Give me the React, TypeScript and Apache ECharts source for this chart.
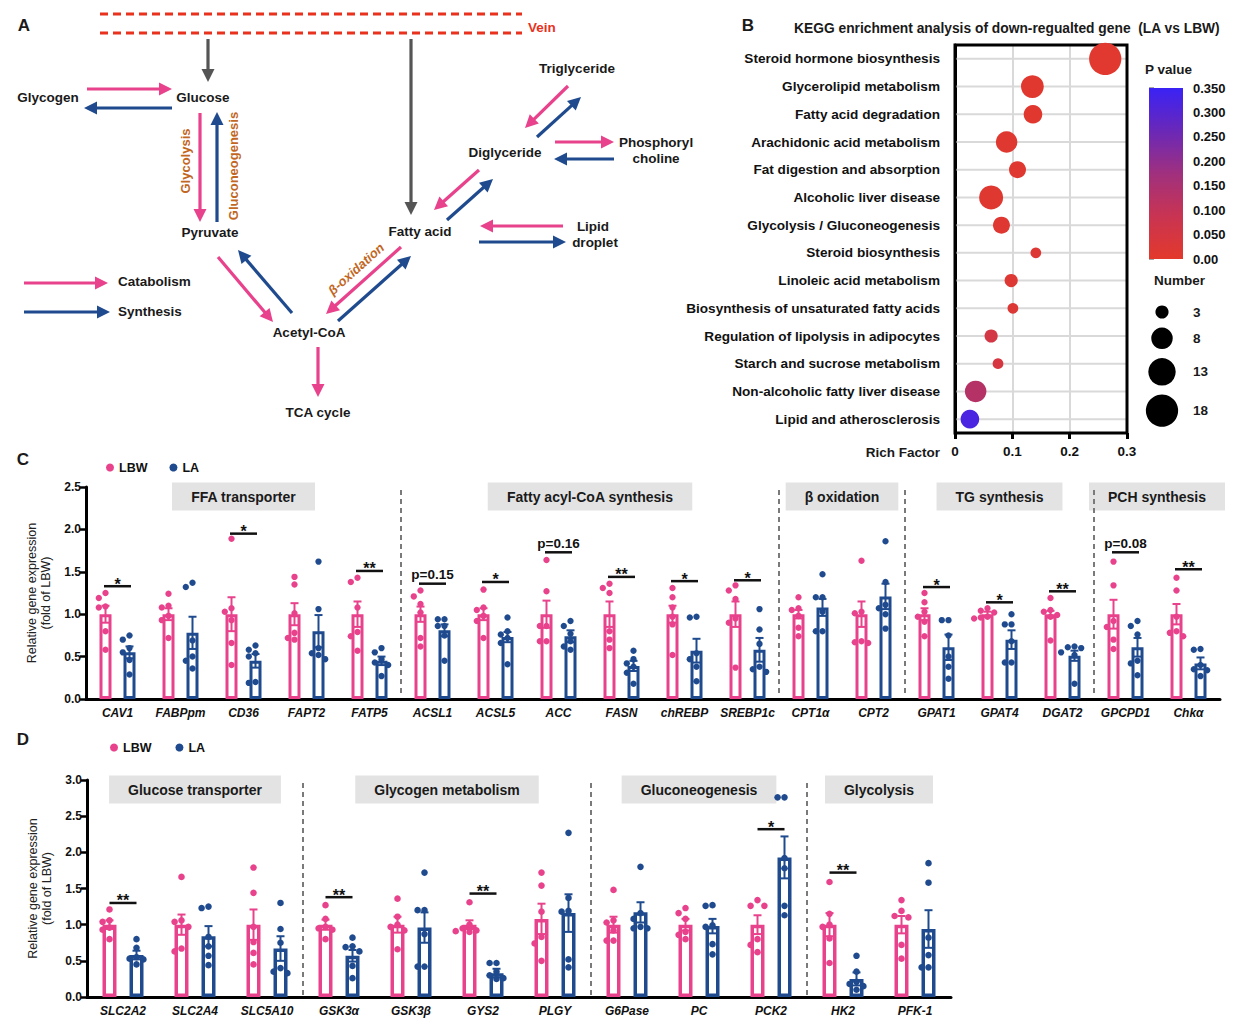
import React, { useEffect, useRef } from 'react';
import * as echarts from 'echarts';

const PINK = '#E8428C';
const BLUE = '#1F4B8E';
const ORANGE = '#C2671F';
const FONT = '"Liberation Sans", Arial, Helvetica, sans-serif';

// ---------- Panel B data ----------
const keggPathways = [
  'Steroid hormone biosynthesis',
  'Glycerolipid metabolism',
  'Fatty acid degradation',
  'Arachidonic acid metabolism',
  'Fat digestion and absorption',
  'Alcoholic liver disease',
  'Glycolysis / Gluconeogenesis',
  'Steroid biosynthesis',
  'Linoleic acid metabolism',
  'Biosynthesis of unsaturated fatty acids',
  'Regulation of lipolysis in adipocytes',
  'Starch and sucrose metabolism',
  'Non-alcoholic fatty liver disease',
  'Lipid and atherosclerosis',
];
const keggRichFactor = [0.262, 0.135, 0.136, 0.090, 0.109, 0.063, 0.081, 0.141, 0.098, 0.101, 0.063, 0.075, 0.036, 0.026];
const keggCount = [18, 9, 6, 8, 5, 10, 5, 2, 3, 2, 3, 2, 8, 6];
const keggPValue = [0.008, 0.01, 0.01, 0.012, 0.012, 0.014, 0.015, 0.02, 0.02, 0.025, 0.055, 0.045, 0.13, 0.32];
const sizeLegend = [3, 8, 13, 18];
const pColors = ['#E3392B', '#C93452', '#A0307E', '#6A28B8', '#3A22F5'];

// ---------- Panel C data ----------
const cGenes = ['CAV1', 'FABPpm', 'CD36', 'FAPT2', 'FATP5', 'ACSL1', 'ACSL5', 'ACC', 'FASN', 'chREBP', 'SREBP1c', 'CPT1α', 'CPT2', 'GPAT1', 'GPAT4', 'DGAT2', 'GPCPD1', 'Chkα'];
const cLbwMean = [1.0, 1.0, 1.0, 1.0, 1.0, 1.0, 1.0, 1.0, 1.0, 1.0, 1.0, 1.0, 1.0, 1.0, 1.0, 1.0, 1.0, 1.0];
const cLbwSem = [0.10, 0.07, 0.20, 0.13, 0.15, 0.09, 0.07, 0.16, 0.15, 0.10, 0.15, 0.05, 0.15, 0.07, 0.03, 0.04, 0.17, 0.12];
const cLaMean = [0.55, 0.78, 0.45, 0.80, 0.45, 0.81, 0.73, 0.74, 0.39, 0.57, 0.58, 1.08, 1.21, 0.61, 0.70, 0.51, 0.61, 0.42];
const cLaSem = [0.07, 0.19, 0.08, 0.19, 0.05, 0.07, 0.06, 0.07, 0.06, 0.14, 0.14, 0.10, 0.15, 0.15, 0.11, 0.06, 0.11, 0.07];
const cLbwPts = [
  [1.25, 1.19, 1.09, 1.08, 0.80, 0.58],
  [1.24, 1.10, 1.08, 0.98, 0.93, 0.72],
  [1.89, 1.07, 1.03, 0.93, 0.66, 0.40],
  [1.44, 1.35, 1.01, 0.78, 0.72, 0.70],
  [1.43, 1.38, 1.08, 0.79, 0.74, 0.57],
  [1.28, 1.21, 1.12, 1.02, 0.72, 0.62],
  [1.29, 1.08, 1.05, 0.98, 0.92, 0.72],
  [1.64, 1.27, 0.86, 0.86, 0.68, 0.68],
  [1.36, 1.31, 1.25, 0.80, 0.70, 0.60],
  [1.31, 1.20, 1.08, 0.97, 0.88, 0.52],
  [1.34, 1.28, 1.18, 0.95, 0.90, 0.37],
  [1.20, 1.07, 1.05, 0.98, 0.84, 0.74],
  [1.63, 1.03, 1.01, 0.68, 0.67, 0.66],
  [1.25, 1.14, 1.03, 0.97, 0.91, 0.74],
  [1.07, 1.04, 1.02, 0.97, 0.96, 0.95],
  [1.19, 1.05, 1.03, 0.99, 0.97, 0.69],
  [1.62, 1.34, 0.92, 0.85, 0.70, 0.59],
  [1.43, 1.28, 0.97, 0.80, 0.78, 0.74],
];
const cLaPts = [
  [0.75, 0.70, 0.60, 0.55, 0.46, 0.29],
  [1.37, 1.32, 0.69, 0.50, 0.45, 0.36],
  [0.63, 0.58, 0.54, 0.50, 0.20, 0.19],
  [1.62, 1.06, 0.60, 0.54, 0.52, 0.47],
  [0.60, 0.55, 0.47, 0.43, 0.40, 0.27],
  [0.94, 0.94, 0.86, 0.86, 0.75, 0.45],
  [0.96, 0.80, 0.76, 0.72, 0.66, 0.41],
  [0.92, 0.86, 0.77, 0.68, 0.62, 0.58],
  [0.57, 0.47, 0.42, 0.38, 0.31, 0.18],
  [0.97, 0.96, 0.54, 0.47, 0.38, 0.21],
  [1.06, 0.82, 0.65, 0.38, 0.35, 0.32],
  [1.47, 1.20, 1.20, 1.03, 0.80, 0.80],
  [1.86, 1.38, 1.11, 1.07, 1.00, 0.83],
  [0.93, 0.93, 0.75, 0.50, 0.38, 0.24],
  [1.00, 0.88, 0.88, 0.68, 0.43, 0.43],
  [0.62, 0.61, 0.60, 0.55, 0.52, 0.18],
  [0.92, 0.86, 0.76, 0.45, 0.42, 0.28],
  [0.59, 0.58, 0.40, 0.35, 0.34, 0.27],
];
const cSig: [number, number, string][] = [
  [0, 1.33, '*'], [2, 1.95, '*'], [4, 1.51, '**'], [5, 1.36, 'p=0.15'], [6, 1.38, '*'],
  [7, 1.73, 'p=0.16'], [8, 1.44, '**'], [9, 1.39, '*'], [10, 1.40, '*'], [13, 1.32, '*'],
  [14, 1.14, '*'], [15, 1.27, '**'], [16, 1.73, 'p=0.08'], [17, 1.53, '**'],
];
const cGroups: [number, number, string][] = [
  [0, 4, 'FFA transporter'], [5, 10, 'Fatty acyl-CoA synthesis'], [11, 12, 'β oxidation'],
  [13, 15, 'TG synthesis'], [16, 17, 'PCH synthesis'],
];

// ---------- Panel D data ----------
const dGenes = ['SLC2A2', 'SLC2A4', 'SLC5A10', 'GSK3α', 'GSK3β', 'GYS2', 'PLGY', 'G6Pase', 'PC', 'PCK2', 'HK2', 'PFK-1'];
const dLbwMean = [1.0, 1.0, 1.0, 1.0, 1.0, 1.0, 1.08, 1.0, 1.0, 1.0, 1.0, 1.0];
const dLbwSem = [0.06, 0.14, 0.21, 0.07, 0.11, 0.06, 0.21, 0.11, 0.08, 0.13, 0.16, 0.12];
const dLaMean = [0.58, 0.84, 0.67, 0.57, 0.96, 0.33, 1.16, 1.17, 0.98, 1.93, 0.25, 0.94];
const dLaSem = [0.06, 0.14, 0.17, 0.08, 0.21, 0.06, 0.26, 0.14, 0.10, 0.29, 0.09, 0.26];
const dLbwPts = [
  [1.21, 1.06, 1.04, 0.96, 0.93, 0.80],
  [1.66, 1.06, 1.04, 0.97, 0.67, 0.63],
  [1.79, 1.44, 0.97, 0.76, 0.61, 0.45],
  [1.27, 1.08, 0.97, 0.95, 0.93, 0.80],
  [1.36, 1.11, 1.00, 0.97, 0.92, 0.66],
  [1.31, 1.00, 0.95, 0.92, 0.91, 0.90],
  [1.72, 1.54, 1.18, 0.83, 0.74, 0.50],
  [1.48, 1.06, 1.03, 0.92, 0.78, 0.78],
  [1.23, 1.16, 1.08, 0.90, 0.86, 0.80],
  [1.34, 1.26, 1.26, 0.80, 0.72, 0.62],
  [1.59, 1.15, 1.00, 0.97, 0.81, 0.47],
  [1.34, 1.19, 1.12, 1.10, 0.72, 0.53],
];
const dLaPts = [
  [0.80, 0.68, 0.55, 0.53, 0.52, 0.45],
  [1.25, 1.23, 0.83, 0.70, 0.57, 0.44],
  [1.30, 0.94, 0.75, 0.40, 0.35, 0.33],
  [0.82, 0.70, 0.69, 0.63, 0.43, 0.26],
  [1.72, 1.20, 1.20, 0.87, 0.42, 0.42],
  [0.47, 0.47, 0.35, 0.30, 0.26, 0.25],
  [2.27, 1.37, 1.19, 1.18, 0.52, 0.41],
  [1.80, 1.16, 1.08, 0.97, 0.95, 0.95],
  [1.27, 1.26, 0.99, 0.97, 0.73, 0.59],
  [2.76, 2.76, 1.92, 1.78, 1.26, 1.13],
  [0.57, 0.35, 0.21, 0.18, 0.15, 0.10],
  [1.85, 1.58, 0.82, 0.58, 0.41, 0.41],
];
const dSig: [number, number, string][] = [
  [0, 1.30, '**'], [3, 1.38, '**'], [5, 1.43, '**'], [9, 2.32, '*'], [10, 1.72, '**'],
];
const dGroups: [number, number, string][] = [
  [0, 2, 'Glucose transporter'], [3, 6, 'Glycogen metabolism'], [7, 9, 'Gluconeogenesis'], [10, 11, 'Glycolysis'],
];

// ---------- Panel A schematic ----------
const diagramNodes: [string, number, number][] = [
  ['Glycogen', 48, 97], ['Glucose', 203, 97], ['Pyruvate', 210, 232], ['Acetyl-CoA', 309, 332],
  ['TCA cycle', 318, 412], ['Fatty acid', 420, 231], ['Diglyceride', 505, 152], ['Triglyceride', 577, 68],
  ['Phosphoryl', 656, 142], ['choline', 656, 158], ['Lipid', 593, 226], ['droplet', 595, 242],
];
const diagramArrows: [number, number, number, number, string][] = [
  [24, 283, 108, 283, 'c'], [24, 312, 110, 312, 's'],
  [87, 89, 172, 89, 'c'], [172, 108, 84, 108, 's'],
  [200, 113, 200, 222, 'c'], [217, 222, 217, 112, 's'],
  [208, 39, 208, 82, 'g'], [411, 39, 411, 215, 'g'],
  [218, 257, 273, 322, 'c'], [292, 313, 238, 250, 's'],
  [318, 347, 318, 397, 'c'],
  [401, 247, 326, 314, 'c'], [338, 321, 411, 256, 's'],
  [479, 170, 434, 210, 'c'], [447, 220, 493, 179, 's'],
  [568, 86, 525, 128, 'c'], [537, 137, 581, 97, 's'],
  [555, 142, 614, 142, 'c'], [614, 159, 554, 159, 's'],
  [563, 226, 480, 226, 'c'], [479, 242, 566, 242, 's'],
];

const arrowColor = (k: string) => (k === 'c' ? PINK : k === 's' ? BLUE : '#555');

function arrow(x1: number, y1: number, x2: number, y2: number, color: string) {
  const dx = x2 - x1, dy = y2 - y1, L = Math.hypot(dx, dy);
  const ux = dx / L, uy = dy / L, head = 13, hw = 6.5;
  const bx = x2 - ux * head, by = y2 - uy * head;
  return [
    { type: 'line', silent: true, shape: { x1, y1, x2: bx + ux, y2: by + uy }, style: { stroke: color, lineWidth: 3.2 } },
    { type: 'polygon', silent: true, shape: { points: [[x2, y2], [bx - uy * hw, by + ux * hw], [bx + uy * hw, by - ux * hw]] }, style: { fill: color } },
  ];
}

function txt(text: string, x: number, y: number, opts: any = {}) {
  return {
    type: 'text', x, y, silent: true, rotation: opts.rotation || 0,
    style: {
      text, fill: opts.fill || '#1a1a1a', fontSize: opts.fontSize || 13.5, fontWeight: opts.fontWeight || 'bold',
      fontStyle: opts.fontStyle || 'normal', fontFamily: FONT,
      textAlign: opts.align || 'center', align: opts.align || 'center',
      textVerticalAlign: 'middle', verticalAlign: 'middle',
    },
  };
}

// beeswarm offsets (px) so that dots with close values don't overlap
function swarm(vals: number[], pxPerUnit: number, minDist: number, slot: number) {
  const order = vals.map((_, i) => i).sort((a, b) => vals[b] - vals[a]);
  const placed: { x: number; y: number }[] = [];
  const out = new Array(vals.length).fill(0);
  const cands = [0, -1, 1, -2, 2, -3, 3];
  order.forEach((idx) => {
    const y = vals[idx] * pxPerUnit;
    let chosen = 0;
    for (const k of cands) {
      const x = k * slot;
      if (placed.every((p) => Math.hypot(p.x - x, p.y - y) >= minDist)) { chosen = x; break; }
      chosen = x;
    }
    placed.push({ x: chosen, y });
    out[idx] = chosen;
  });
  return out;
}

function barSeries(name: string, means: number[], color: string, ax: number, bw: number, gap: string, bwBorder: number) {
  return {
    type: 'bar', name, xAxisIndex: ax, yAxisIndex: ax, data: means, barWidth: bw, barGap: gap, z: 2, silent: true,
    itemStyle: { color: '#ffffff', borderColor: color, borderWidth: bwBorder },
  };
}

function errSeries(means: number[], sems: number[], color: string, ax: number, offset: number) {
  return {
    type: 'custom', xAxisIndex: ax, yAxisIndex: ax, z: 3, silent: true,
    data: means.map((m, i) => [i, m, sems[i]]),
    renderItem: (params: any, api: any) => {
      const i = api.value(0), m = api.value(1), s = api.value(2);
      const t = api.coord([i, m + s]), b = api.coord([i, m - s]);
      const x = t[0] + offset;
      const st = { stroke: color, lineWidth: 2 };
      return {
        type: 'group', children: [
          { type: 'line', shape: { x1: x, y1: t[1], x2: x, y2: b[1] }, style: st },
          { type: 'line', shape: { x1: x - 4, y1: t[1], x2: x + 4, y2: t[1] }, style: st },
          { type: 'line', shape: { x1: x - 4, y1: b[1], x2: x + 4, y2: b[1] }, style: st },
        ],
      };
    },
  };
}

function dotSeries(name: string, pts: number[][], color: string, ax: number, offset: number, pxPerUnit: number, r: number) {
  const data: number[][] = [];
  pts.forEach((vals, i) => {
    const offs = swarm(vals, pxPerUnit, 2 * r + 0.3, 2 * r + 0.3);
    vals.forEach((v, k) => data.push([i, v, offs[k]]));
  });
  return {
    type: 'custom', name, xAxisIndex: ax, yAxisIndex: ax, z: 4, silent: true,
    itemStyle: { color }, data,
    renderItem: (params: any, api: any) => {
      const c = api.coord([api.value(0), api.value(1)]);
      return { type: 'circle', shape: { cx: c[0] + offset + api.value(2), cy: c[1], r }, style: { fill: color } };
    },
  };
}

function sigSeries(sig: [number, number, string][], ax: number) {
  return {
    type: 'custom', xAxisIndex: ax, yAxisIndex: ax, z: 5, silent: true,
    data: sig.map((s) => [s[0], s[1]]),
    renderItem: (params: any, api: any) => {
      const c = api.coord([api.value(0), api.value(1)]);
      const lab = sig[params.dataIndex][2];
      const star = lab.charAt(0) === '*';
      return {
        type: 'group', children: [
          { type: 'line', shape: { x1: c[0] - 13.5, y1: c[1], x2: c[0] + 13.5, y2: c[1] }, style: { stroke: '#111', lineWidth: 2.5 } },
          {
            type: 'text', x: c[0], y: star ? c[1] + 6 : c[1] - 2,
            style: {
              text: lab, fill: '#111', fontSize: star ? 16 : 13.5, fontWeight: 'bold', fontFamily: FONT,
              align: 'center', verticalAlign: 'bottom', textAlign: 'center', textVerticalAlign: 'bottom',
            },
          },
        ],
      };
    },
  };
}

function groupSeries(groups: [number, number, string][], yMax: number, ax: number) {
  return {
    type: 'custom', xAxisIndex: ax, yAxisIndex: ax, z: 1, silent: true,
    data: groups.map((g) => [g[0], g[1]]),
    renderItem: (params: any, api: any) => {
      const s = api.value(0), e = api.value(1);
      const band = api.size([1, 0])[0];
      const a = api.coord([s, yMax]), b = api.coord([e, 0]);
      const left = a[0] - band / 2, right = b[0] + band / 2;
      const children: any[] = [
        {
          type: 'text', x: (left + right) / 2, y: a[1] + 9.5,
          style: {
            text: groups[params.dataIndex][2], fill: '#1a1a1a', fontSize: 14, fontWeight: 'bold', fontFamily: FONT,
            align: 'center', verticalAlign: 'middle', textAlign: 'center', textVerticalAlign: 'middle',
            backgroundColor: '#E3E3E3', padding: [7, 19, 7, 19], lineHeight: 14,
          },
        },
      ];
      if (s > 0) {
        children.push({ type: 'line', shape: { x1: left, y1: a[1] + 3, x2: left, y2: b[1] - 2 }, style: { stroke: '#7a7a7a', lineWidth: 2, lineDash: [5, 4] } });
      }
      return { type: 'group', children };
    },
  };
}

const kSize = (n: number) => 7.6 * Math.sqrt(n);

function barAxes(genes: string[], grid: number, max: number) {
  const x = {
    type: 'category', gridIndex: grid, data: genes,
    axisLine: { lineStyle: { color: '#000', width: 3 } },
    axisTick: { alignWithLabel: true, length: 5, lineStyle: { color: '#000', width: 2.5 } },
    axisLabel: { interval: 0, fontStyle: 'italic', fontWeight: 'bold', fontSize: 12, color: '#111', margin: 8, fontFamily: FONT },
    splitLine: { show: false },
  };
  const y = {
    type: 'value', gridIndex: grid, min: 0, max, interval: 0.5,
    name: 'Relative gene expression\n(fold of LBW)', nameLocation: 'middle', nameRotate: 90, nameGap: 26,
    nameTextStyle: { fontSize: 12.5, color: '#222', lineHeight: 14, fontFamily: FONT },
    axisLine: { show: true, lineStyle: { color: '#000', width: 3 } },
    axisTick: { show: true, length: 6, lineStyle: { color: '#000', width: 2.5 } },
    axisLabel: { fontWeight: 'bold', fontSize: 12, color: '#111', margin: 5, fontFamily: FONT, formatter: (v: number) => v.toFixed(1) },
    splitLine: { show: false },
  };
  return { x, y };
}

export default function App() {
  const ref = useRef<HTMLDivElement>(null);
  useEffect(() => {
    if (!ref.current) return;
    const chart = echarts.init(ref.current, undefined, { renderer: 'svg' });

    const cAx = barAxes(cGenes, 2, 2.5);
    const dAx = barAxes(dGenes, 3, 3.0);

    const graphic: any[] = [];
    // panel letters
    graphic.push(txt('A', 24, 25, { fontSize: 17 }), txt('B', 748, 25, { fontSize: 17 }), txt('C', 23, 459, { fontSize: 17 }), txt('D', 23, 739, { fontSize: 17 }));
    // vein
    graphic.push({ type: 'line', silent: true, shape: { x1: 100, y1: 14, x2: 522, y2: 14 }, style: { stroke: '#E8321E', lineWidth: 3, lineDash: [8, 5] } });
    graphic.push({ type: 'line', silent: true, shape: { x1: 100, y1: 33, x2: 522, y2: 33 }, style: { stroke: '#E8321E', lineWidth: 3, lineDash: [8, 5] } });
    graphic.push(txt('Vein', 528, 27, { fill: '#E8321E', align: 'left' }));
    diagramArrows.forEach((a) => graphic.push(...arrow(a[0], a[1], a[2], a[3], arrowColor(a[4]))));
    diagramNodes.forEach((n) => graphic.push(txt(n[0], n[1], n[2])));
    graphic.push(txt('Catabolism', 118, 281, { align: 'left' }), txt('Synthesis', 118, 311, { align: 'left' }));
    graphic.push(txt('Glycolysis', 185, 161, { fill: ORANGE, rotation: Math.PI / 2, fontSize: 13 }));
    graphic.push(txt('Gluconeogenesis', 233, 166, { fill: ORANGE, rotation: Math.PI / 2, fontSize: 13 }));
    graphic.push(txt('β-oxidation', 356, 269, { fill: ORANGE, rotation: 0.73, fontSize: 13, fontStyle: 'italic' }));
    // panel B texts
    graphic.push(txt('KEGG enrichment analysis of down-regualted gene  (LA vs LBW)', 794, 28, { align: 'left', fontSize: 13.8 }));
    graphic.push(txt('P value', 1145, 69, { align: 'left', fontSize: 13.5 }));
    graphic.push(txt('Number', 1154, 280, { align: 'left', fontSize: 13.5 }));
    graphic.push(txt('Rich Factor', 940, 452, { align: 'right', fontSize: 13.5 }));
    let yy = 312, prevR = 0;
    sizeLegend.forEach((n, i) => {
      const r = kSize(n) / 2;
      if (i > 0) yy += prevR + r + 9;
      graphic.push({ type: 'circle', silent: true, shape: { cx: 1162, cy: yy, r }, style: { fill: '#000' } });
      graphic.push(txt(String(n), 1193, yy, { align: 'left', fontSize: 13.5 }));
      prevR = r;
    });

    const option: any = {
      animation: false,
      textStyle: { fontFamily: FONT },
      grid: [
        { left: 955, top: 45, width: 172, height: 388 },
        { left: 1149, top: 88, width: 34, height: 171 },
        { left: 86, top: 487, width: 1134, height: 212 },
        { left: 87, top: 780, width: 864, height: 217 },
      ],
      xAxis: [
        {
          type: 'value', gridIndex: 0, min: 0, max: 0.3, interval: 0.1,
          axisLine: { lineStyle: { color: '#000', width: 3 } },
          axisTick: { show: true, length: 6, lineStyle: { color: '#000', width: 3 } },
          axisLabel: { fontWeight: 'bold', fontSize: 13.5, color: '#111', margin: 11, fontFamily: FONT },
          splitLine: { show: true, lineStyle: { color: '#d9d9d9', width: 2 } },
        },
        { type: 'value', gridIndex: 1, min: 0, max: 1, show: false },
        cAx.x,
        dAx.x,
      ],
      yAxis: [
        {
          type: 'category', gridIndex: 0, data: keggPathways, inverse: true,
          axisLine: { lineStyle: { color: '#000', width: 3 } },
          axisTick: { alignWithLabel: true, length: 11, lineStyle: { color: '#000', width: 3 } },
          axisLabel: { fontWeight: 'bold', fontSize: 13.6, color: '#111', margin: 15, fontFamily: FONT },
          splitLine: { show: false },
        },
        {
          type: 'value', gridIndex: 1, min: 0, max: 0.35, interval: 0.05, position: 'right',
          axisLine: { show: false },
          axisTick: { show: true, length: 5, lineStyle: { color: '#888', width: 1.5 } },
          axisLabel: { fontWeight: 'bold', fontSize: 13, color: '#111', margin: 10, fontFamily: FONT, formatter: (v: number) => (v === 0 ? '0.00' : v.toFixed(3)) },
          splitLine: { show: false },
        },
        cAx.y,
        dAx.y,
      ],
      visualMap: [
        { type: 'continuous', show: false, seriesIndex: 0, dimension: 3, min: 0, max: 0.35, inRange: { color: pColors } },
      ],
      legend: [
        { data: ['LBW', 'LA'], left: 101, top: 456, icon: 'circle', itemWidth: 8, itemHeight: 8, itemGap: 22, selectedMode: false, textStyle: { fontWeight: 'bold', fontSize: 12.5, color: '#111', fontFamily: FONT } },
        { data: ['LBW', 'LA'], left: 105, top: 736, icon: 'circle', itemWidth: 8, itemHeight: 8, itemGap: 24, selectedMode: false, textStyle: { fontWeight: 'bold', fontSize: 12.5, color: '#111', fontFamily: FONT } },
      ],
      series: [
        {
          type: 'scatter', xAxisIndex: 0, yAxisIndex: 0, z: 3, silent: true,
          data: keggPathways.map((name, i) => [keggRichFactor[i], name, keggCount[i], keggPValue[i]]),
          symbolSize: (v: any) => kSize(v[2]),
          itemStyle: { opacity: 1 },
        },
        {
          type: 'custom', xAxisIndex: 0, yAxisIndex: 0, z: 1, silent: true,
          data: keggPathways.map((_, i) => [0.15, i]),
          renderItem: (params: any, api: any) => {
            const a = api.coord([0, api.value(1)]), b = api.coord([0.3, api.value(1)]);
            const children: any[] = [
              { type: 'line', shape: { x1: a[0], y1: a[1], x2: b[0], y2: b[1] }, style: { stroke: '#d9d9d9', lineWidth: 2 } },
            ];
            if (params.dataIndex === 0) {
              const cs = params.coordSys;
              children.push({ type: 'rect', z2: 100, shape: { x: cs.x, y: cs.y, width: cs.width, height: cs.height }, style: { fill: 'none', stroke: '#000', lineWidth: 3 } });
            }
            return { type: 'group', children };
          },
        },
        {
          type: 'custom', xAxisIndex: 1, yAxisIndex: 1, silent: true,
          data: [[0.5, 0.175]],
          renderItem: (params: any, api: any) => {
            const tl = api.coord([0, 0.35]), br = api.coord([1, 0]);
            const stops = pColors.map((c, i) => ({ offset: 1 - i / (pColors.length - 1), color: c }));
            stops.reverse();
            return {
              type: 'rect', shape: { x: tl[0], y: tl[1], width: br[0] - tl[0], height: br[1] - tl[1] },
              style: { fill: new echarts.graphic.LinearGradient(0, 0, 0, 1, stops) },
            };
          },
        },
        // Panel C
        groupSeries(cGroups, 2.5, 2),
        barSeries('LBW bars', cLbwMean, PINK, 2, 12, '100%', 3),
        barSeries('LA bars', cLaMean, BLUE, 2, 12, '100%', 3),
        errSeries(cLbwMean, cLbwSem, PINK, 2, -12),
        errSeries(cLaMean, cLaSem, BLUE, 2, 12),
        dotSeries('LBW', cLbwPts, PINK, 2, -12, 84.8, 3.2),
        dotSeries('LA', cLaPts, BLUE, 2, 12, 84.8, 3.2),
        sigSeries(cSig, 2),
        // Panel D
        groupSeries(dGroups, 3.0, 3),
        barSeries('LBW bars', dLbwMean, PINK, 3, 14, '93%', 3.5),
        barSeries('LA bars', dLaMean, BLUE, 3, 14, '93%', 3.5),
        errSeries(dLbwMean, dLbwSem, PINK, 3, -13.5),
        errSeries(dLaMean, dLaSem, BLUE, 3, 13.5),
        dotSeries('LBW', dLbwPts, PINK, 3, -13.5, 72.3, 3.3),
        dotSeries('LA', dLaPts, BLUE, 3, 13.5, 72.3, 3.3),
        sigSeries(dSig, 3),
      ],
      graphic,
    };
    chart.setOption(option);
    return () => chart.dispose();
  }, []);
  return <div ref={ref} style={{ position: 'fixed', left: 0, top: 0, width: 1242, height: 1024, background: '#fff' }} />;
}
